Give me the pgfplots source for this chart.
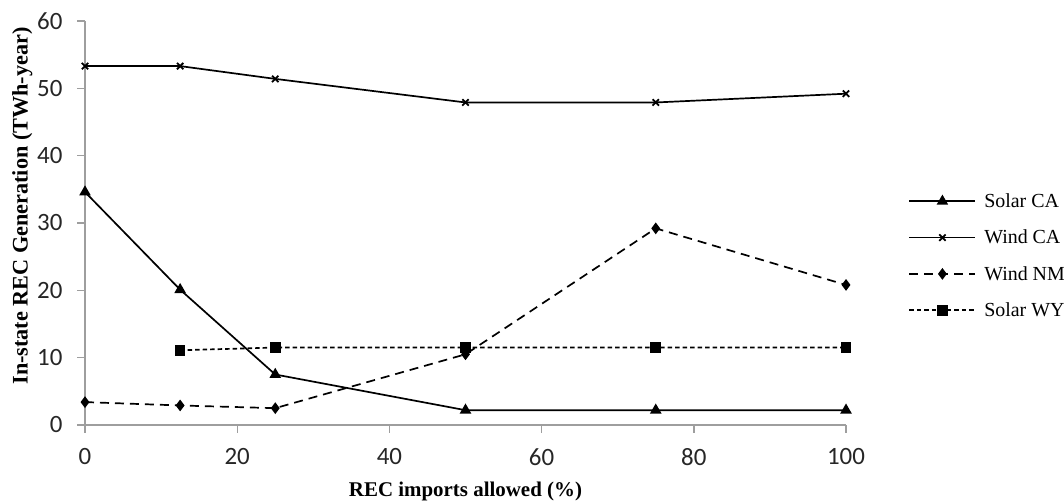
\documentclass[border=0pt]{standalone}
\usepackage{fontspec}
\setmainfont{Liberation Serif}
\newfontfamily\tickfont{Carlito}
\usepackage{pgfplots}
\pgfplotsset{compat=1.18}
\begin{document}
\begin{tikzpicture}[x=1bp,y=1bp]
\path[use as bounding box] (0,0) rectangle (1064,504);
\begin{axis}[
  at={(85bp,79bp)}, anchor=south west,
  width=761bp, height=404bp, scale only axis,
  xmin=0, xmax=100, ymin=0, ymax=60,
  xtick={0,20,...,100}, ytick={0,10,...,60},
  axis x line*=bottom, axis y line*=left,
  axis line style={draw=black!38, line width=1.4bp, -},
  tick style={draw=black!38, line width=1.4bp},
  tick align=outside, major tick length=8bp,
  /pgf/number format/assume math mode=true,
  ticklabel style={font=\tickfont\fontsize{25}{25}\selectfont, text=black!85},
  xticklabel style={yshift=-12bp},
  yticklabel style={xshift=-11bp},
  xlabel={\textbf{REC imports allowed (\%)}},
  ylabel={\textbf{In-state REC Generation (TWh-year)}},
  xlabel style={font=\fontsize{21}{21}\selectfont, yshift=-9bp},
  ylabel style={font=\fontsize{22.3}{22.3}\selectfont, xshift=17bp, yshift=-2bp},
  legend style={draw=none, fill=none, at={(1.078,0.583)}, anchor=north west,
    font=\fontsize{20}{20}\selectfont, row sep=17bp,
    nodes={inner xsep=8bp}},
  legend cell align=left,
  legend image code/.code={\draw[mark repeat=2,mark phase=2,#1] plot coordinates {(0bp,0bp)(33bp,0bp)(66bp,0bp)};},
  every axis plot/.append style={line width=1.7bp, black},
]
\addplot[solid, mark=triangle*, mark size=5bp, mark options={solid}] coordinates {
  (0,34.6) (12.5,20.1) (25,7.5) (50,2.2) (75,2.2) (100,2.2)};
\addlegendentry{Solar CA}
\addplot[solid, mark=x, mark size=4.5bp, mark options={solid, line width=1.8bp}] coordinates {
  (0,53.3) (12.5,53.3) (25,51.4) (50,47.9) (75,47.9) (100,49.2)};
\addlegendentry{Wind CA}
\addplot[dash pattern=on 9bp off 6bp, mark=diamond*, mark size=4.5bp, mark options={solid}] coordinates {
  (0,3.4) (12.5,2.9) (25,2.5) (50,10.5) (75,29.2) (100,20.8)};
\addlegendentry{Wind NM}
\addplot[dash pattern=on 4.5bp off 3bp, mark=square*, mark size=4.5bp, mark options={solid}] coordinates {
  (12.5,11.1) (25,11.5) (50,11.5) (75,11.5) (100,11.5)};
\addlegendentry{Solar WY}
\end{axis}
\end{tikzpicture}
\end{document}
